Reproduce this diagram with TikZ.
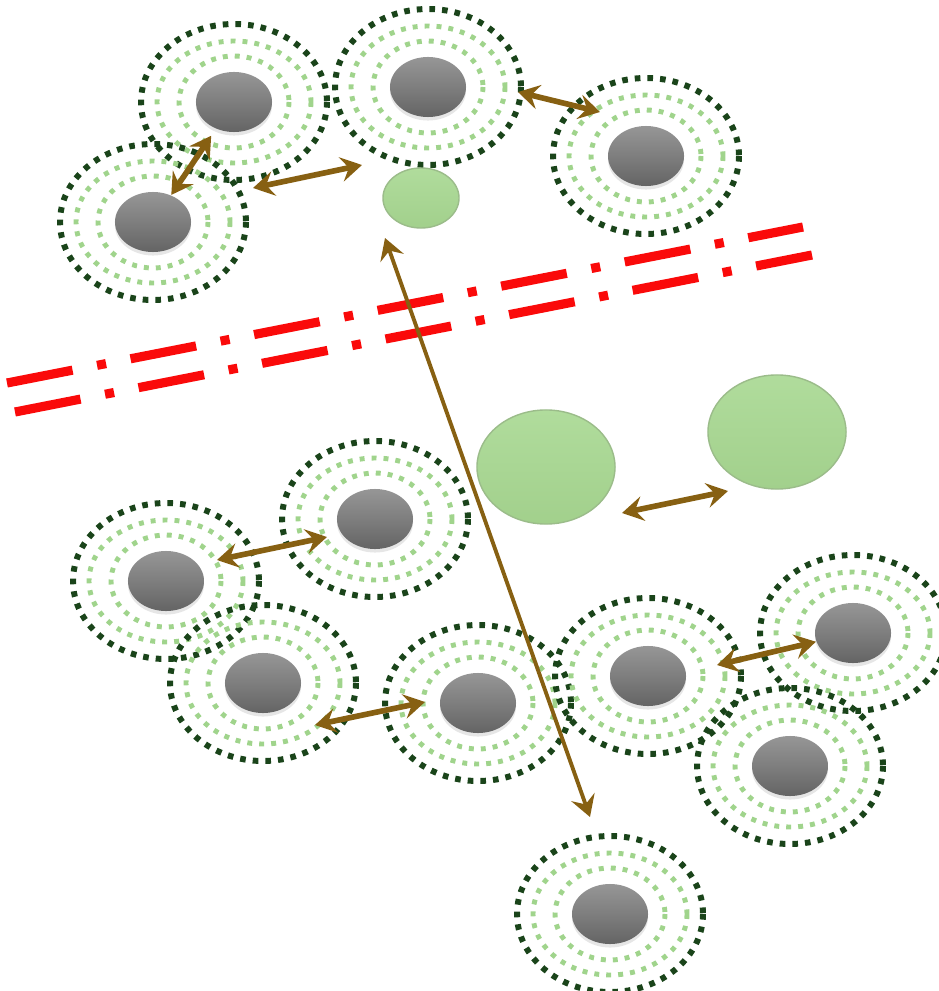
\documentclass[tikz,border=0pt]{standalone}
\usetikzlibrary{backgrounds,arrows.meta,shapes.geometric,shadows}
\definecolor{ringdark}{RGB}{26,68,26}
\definecolor{ringlight}{RGB}{160,212,140}
\definecolor{atomtop}{RGB}{150,150,150}
\definecolor{atommid}{RGB}{126,126,126}
\definecolor{atombot}{RGB}{100,100,100}
\definecolor{moltop}{RGB}{176,220,156}
\definecolor{molbot}{RGB}{162,208,140}
\definecolor{molrim}{RGB}{155,188,138}
\definecolor{linkbrown}{RGB}{135,96,18}
\definecolor{cutred}{RGB}{250,10,10}
\begin{document}
\begin{tikzpicture}[x=0.01cm,y=-0.01cm]
    \tikzstyle{atom}=[ellipse,inner sep=0pt,minimum width=0.76cm,minimum height=0.6cm,
      top color=atomtop,bottom color=atombot,middle color=atommid,
      drop shadow={opacity=0.2,shadow xshift=0pt,shadow yshift=-1pt}]
    \tikzstyle{mol}=[ellipse,inner sep=0pt,minimum width=0.76cm,minimum height=0.6cm,
      top color=moltop,bottom color=molbot,draw=molrim,line width=0.4pt]
    \tikzstyle{big mol}=[mol,minimum width=1.38cm,minimum height=1.14cm]
    \tikzstyle{ring dark}=[draw=ringdark,line width=1.7pt,dash pattern=on 1.6pt off 2pt]
    \tikzstyle{ring light}=[draw=ringlight,line width=1.4pt,dash pattern=on 1.4pt off 2pt]
    \tikzstyle{cut}=[draw=cutred,line width=2.6pt,dash pattern=on 19pt off 7.1pt on 2.6pt off 7.1pt]
    \tikzstyle{link}=[<->,>={Stealth[length=6pt,width=7pt,inset=2.2pt]},draw=linkbrown,line width=1.6pt]
    \useasboundingbox (0,0) rectangle (938,991);
    \draw node[atom](a1)at(234,102){}
          node[atom](a2)at(153,222){}
          node[atom](a3)at(428,87){}
          node[atom](a4)at(646,156){}
          node[mol](m0)at(421,198){}
          node[big mol](m1)at(546,467){}
          node[big mol](m2)at(777,432){}
          node[atom](b1)at(166,581){}
          node[atom](b2)at(375,519){}
          node[atom](b3)at(263,683){}
          node[atom](b4)at(478,703){}
          node[atom](b5)at(648,676){}
          node[atom](b6)at(853,633){}
          node[atom](b7)at(790,766){}
          node[atom](b8)at(610,914){};
    \begin{pgfonlayer}{background}
      \foreach \n in {a1,a2,a3,a4,b1,b2,b3,b4,b5,b6,b7,b8}{
        \draw[ring light](\n)ellipse[x radius=55,y radius=46];
        \draw[ring light](\n)ellipse[x radius=77,y radius=61];
        \draw[ring dark](\n)ellipse[x radius=93,y radius=78];
      }
    \end{pgfonlayer}
    \draw[cut](7,383)--(803,227);
    \draw[cut](15,412)--(812,255);
    \coordinate(p1)at(253,188); \coordinate(p2)at(362,165);
    \coordinate(p3)at(518,92);  \coordinate(p4)at(600,112);
    \coordinate(p5)at(385,238); \coordinate(p6)at(590,817);
    \coordinate(p7)at(217,560); \coordinate(p8)at(327,537);
    \coordinate(p9)at(315,725); \coordinate(p10)at(425,702);
    \coordinate(p11)at(717,665);
    \coordinate(p12)at(622,513); \coordinate(p13)at(728,491);
    \draw[link,shorten <=2.3pt](a1)--(a2);
    \draw[link](p1)--(p2);
    \draw[link](p3)--(p4);
    \draw[link,line width=1.1pt](p5)--(p6);
    \draw[link](p7)--(p8);
    \draw[link](p9)--(p10);
    \draw[link](p11)--(b6);
    \draw[link](p12)--(p13);
  \end{tikzpicture}
\end{document}
